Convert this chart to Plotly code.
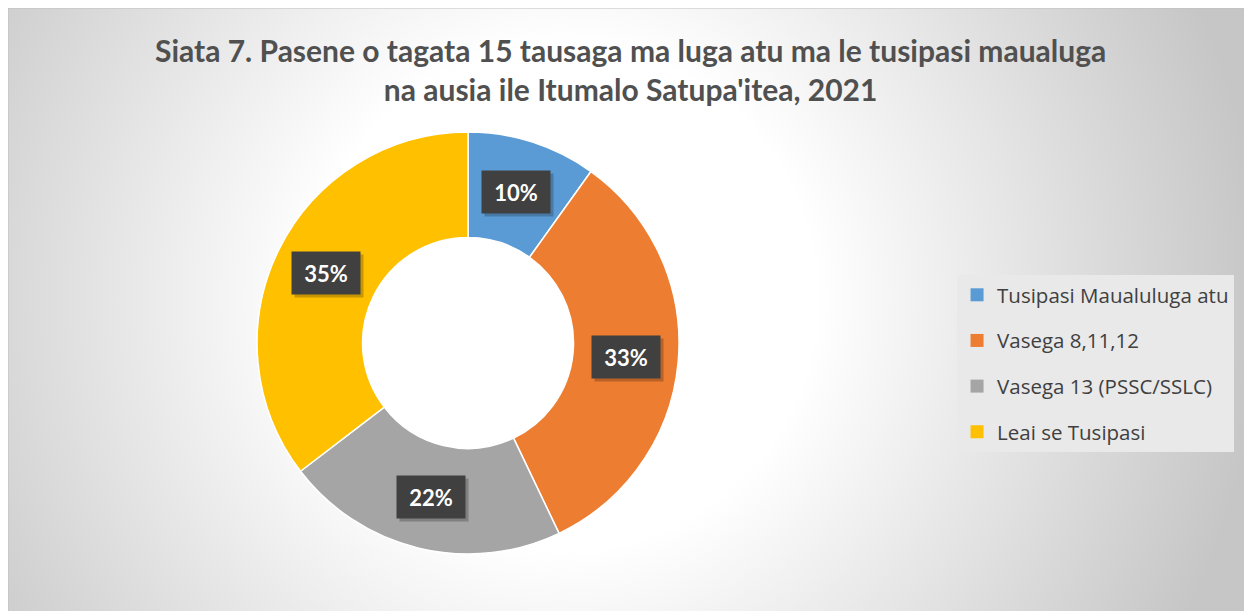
import base64
import math
import plotly.graph_objects as go

# ---- data ----
categories = ["Tusipasi Maualuluga atu", "Vasega 8,11,12", "Vasega 13 (PSSC/SSLC)", "Leai se Tusipasi"]
values = [9.9, 33.0, 21.7, 35.4]
colors = ["#5B9BD5", "#ED7D31", "#A5A5A5", "#FFC000"]
title_lines = ["Siata 7. Pasene o tagata 15 tausaga ma luga atu ma le tusipasi maualuga",
               "na ausia ile Itumalo Satupa'itea, 2021"]

# ---- geometry ----
W, H = 1244, 604
HOLE = 0.5
dom_x = [0.2002, 0.5394]
dom_y = [0.0960, 0.7947]

# background radial gradient as an svg image
svg = (f'<svg xmlns="http://www.w3.org/2000/svg" width="{W}" height="{H}" viewBox="0 0 {W} {H}" '
       f'preserveAspectRatio="none"><defs><radialGradient id="g" gradientUnits="userSpaceOnUse" '
       f'cx="555" cy="290" r="700"><stop offset="0.36" stop-color="#ffffff"/>'
       f'<stop offset="1" stop-color="#c6c6c6"/></radialGradient></defs>'
       f'<rect width="{W}" height="{H}" fill="url(#g)"/></svg>')
bg_src = "data:image/svg+xml;base64," + base64.b64encode(svg.encode()).decode()

fig = go.Figure()
fig.add_trace(go.Pie(
    labels=categories, values=values, hole=HOLE, sort=False, direction="clockwise",
    rotation=0, marker=dict(colors=colors, line=dict(color="white", width=1.5)),
    textinfo="none", showlegend=False, domain=dict(x=dom_x, y=dom_y), hoverinfo="label+percent",
))

# legend entries
for name, c in zip(categories, colors):
    fig.add_trace(go.Scatter(x=[None], y=[None], mode="markers", name=name, legendgroup=name,
                             marker=dict(symbol="square", size=13, color=c)))

# data labels with boxes, placed at the middle of each ring segment
total = sum(values)
cx = (dom_x[0] + dom_x[1]) / 2
cy = (dom_y[0] + dom_y[1]) / 2
R = min((dom_x[1] - dom_x[0]) * W, (dom_y[1] - dom_y[0]) * H) / 2
rm = R * (1 + HOLE) / 2
cum = 0.0
annotations = []
for v in values:
    mid = (cum + v / 2) / total * 2 * math.pi
    cum += v
    ax = cx + rm * math.sin(mid) / W
    ay = cy + rm * math.cos(mid) / H
    label = f"<b>{round(v / total * 100)}%</b>"
    # soft shadow box
    annotations.append(dict(
        x=ax, y=ay, xref="paper", yref="paper", xanchor="center", yanchor="middle",
        xshift=3, yshift=-3, text=" ", showarrow=False,
        font=dict(family="Lato", size=22, color="rgba(0,0,0,0)"),
        bgcolor="rgba(0,0,0,0.22)", width=68, height=42, borderpad=0,
    ))
    annotations.append(dict(
        x=ax, y=ay, xref="paper", yref="paper", xanchor="center", yanchor="middle",
        text=label, showarrow=False,
        font=dict(family="Lato", size=22, color="white"),
        bgcolor="#404040", width=68, height=42, borderpad=0,
    ))
annotations.append(dict(
    x=0.5, y=0.899, xref="paper", yref="paper", xanchor="center", yanchor="middle",
    text="<b>" + "<br>".join(title_lines) + "</b>", showarrow=False,
    font=dict(family="Lato", size=30, color="#505050"),
))

fig.update_layout(
    width=W, height=H,
    margin=dict(l=0, r=0, t=0, b=0, pad=0),
    paper_bgcolor="white", plot_bgcolor="rgba(0,0,0,0)",
    xaxis=dict(visible=False, range=[0, 1]), yaxis=dict(visible=False, range=[0, 1]),
    images=[dict(source=bg_src, xref="paper", yref="paper", x=0, y=1, sizex=1, sizey=1,
                 xanchor="left", yanchor="top", sizing="stretch", layer="below")],
    shapes=[dict(type="rect", xref="paper", yref="paper", x0=0, y0=0, x1=1, y1=1,
                 line=dict(color="#c0c0c0", width=1), layer="above")],
    annotations=annotations,
    showlegend=True,
    legend=dict(x=0.7629, y=0.558, xanchor="left", yanchor="top", bgcolor="#e9e9e9",
                font=dict(family="Open Sans", size=20.5, color="#404040"), tracegroupgap=16,
                itemwidth=30, borderwidth=0),
)

fig.write_html("out.html")
